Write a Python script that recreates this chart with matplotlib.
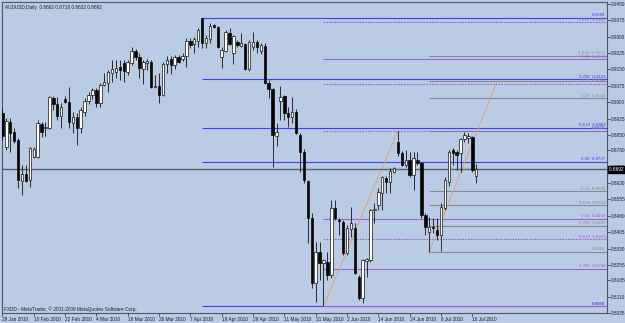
import matplotlib
matplotlib.use("Agg")
import matplotlib.pyplot as plt
import matplotlib.transforms as mtransforms
import numpy as np
import pandas as pd

plt.rcParams['font.family'] = ['Liberation Sans', 'DejaVu Sans']

symbol = "AUDUSD,Daily"
first_day = "2010-01-29"
footer = "FXDD - MetaTrader, \u00a9 2001-2009 MetaQuotes Software Corp."

# daily bars
opens = [0.8951, 0.8795, 0.8910, 0.8864, 0.8827, 0.8639, 0.8671, 0.8644, 0.8749, 0.8749,
         0.8901, 0.8882, 0.8882, 0.9020, 0.8992, 0.8937, 0.9015, 0.9001, 0.8905, 0.8933,
         0.8882, 0.8955, 0.9006, 0.9033, 0.9056, 0.8997, 0.9079, 0.9088, 0.9134, 0.9139,
         0.9161, 0.9180, 0.9139, 0.9180, 0.9235, 0.9207, 0.9152, 0.9180, 0.9184, 0.9070,
         0.9075, 0.9033, 0.9175, 0.9198, 0.9171, 0.9207, 0.9198, 0.9212, 0.9280, 0.9267,
         0.9280, 0.9386, 0.9271, 0.9290, 0.9354, 0.9345, 0.9207, 0.9235, 0.9317, 0.9226,
         0.9276, 0.9258, 0.9267, 0.9152, 0.9253, 0.9276, 0.9235, 0.9258, 0.9088, 0.9061,
         0.8846, 0.9006, 0.9029, 0.8951, 0.8933, 0.8955, 0.8850, 0.8772, 0.8639, 0.8470,
         0.8172, 0.8314, 0.8264, 0.8268, 0.8209, 0.8516, 0.8461, 0.8452, 0.8310, 0.8420,
         0.8424, 0.8200, 0.8103, 0.8273, 0.8277, 0.8506, 0.8529, 0.8585, 0.8653, 0.8635,
         0.8681, 0.8818, 0.8768, 0.8713, 0.8735, 0.8667, 0.8735, 0.8722, 0.8484, 0.8406,
         0.8429, 0.8415, 0.8392, 0.8516, 0.8635, 0.8781, 0.8772, 0.8768, 0.8832, 0.8836,
         0.8841, 0.8662]
highs = [0.8974, 0.8928, 0.8928, 0.8882, 0.8836, 0.8713, 0.8713, 0.8795, 0.8795, 0.8919,
         0.8910, 0.8910, 0.9029, 0.9029, 0.9024, 0.8997, 0.9029, 0.9070, 0.8955, 0.8951,
         0.8978, 0.9020, 0.9047, 0.9065, 0.9065, 0.9088, 0.9134, 0.9148, 0.9194, 0.9194,
         0.9194, 0.9194, 0.9194, 0.9253, 0.9244, 0.9226, 0.9194, 0.9198, 0.9194, 0.9125,
         0.9134, 0.9184, 0.9212, 0.9212, 0.9216, 0.9216, 0.9226, 0.9294, 0.9294, 0.9299,
         0.9340, 0.9388, 0.9308, 0.9363, 0.9358, 0.9349, 0.9253, 0.9331, 0.9340, 0.9308,
         0.9285, 0.9317, 0.9271, 0.9285, 0.9322, 0.9285, 0.9271, 0.9271, 0.9102, 0.9065,
         0.8905, 0.9075, 0.9033, 0.8978, 0.9024, 0.8969, 0.8859, 0.8786, 0.8644, 0.8493,
         0.8360, 0.8360, 0.8282, 0.8314, 0.8552, 0.8552, 0.8470, 0.8461, 0.8438, 0.8520,
         0.8447, 0.8209, 0.8282, 0.8286, 0.8511, 0.8539, 0.8607, 0.8662, 0.8662, 0.8699,
         0.8703, 0.8869, 0.8777, 0.8781, 0.8772, 0.8772, 0.8772, 0.8726, 0.8493, 0.8474,
         0.8470, 0.8470, 0.8539, 0.8658, 0.8781, 0.8790, 0.8781, 0.8836, 0.8864, 0.8859,
         0.8846, 0.8718]
lows = [0.8827, 0.8781, 0.8772, 0.8813, 0.8607, 0.8575, 0.8635, 0.8612, 0.8745, 0.8745,
        0.8841, 0.8846, 0.8878, 0.8965, 0.8919, 0.8882, 0.8997, 0.8882, 0.8859, 0.8804,
        0.8859, 0.8937, 0.8992, 0.9015, 0.8978, 0.8978, 0.9075, 0.9047, 0.9093, 0.9111,
        0.9102, 0.9093, 0.9125, 0.9171, 0.9194, 0.9111, 0.9084, 0.9148, 0.9065, 0.9065,
        0.8997, 0.9029, 0.9134, 0.9129, 0.9152, 0.9180, 0.9189, 0.9161, 0.9248, 0.9226,
        0.9253, 0.9248, 0.9248, 0.9271, 0.9340, 0.9248, 0.9157, 0.9230, 0.9262, 0.9175,
        0.9253, 0.9253, 0.9148, 0.9143, 0.9239, 0.9226, 0.9221, 0.9084, 0.9020, 0.8703,
        0.8800, 0.8919, 0.8919, 0.8887, 0.8905, 0.8855, 0.8681, 0.8630, 0.8355, 0.8149,
        0.8085, 0.8186, 0.8066, 0.8186, 0.8195, 0.8461, 0.8392, 0.8300, 0.8300, 0.8383,
        0.8213, 0.8094, 0.8081, 0.8200, 0.8268, 0.8447, 0.8506, 0.8506, 0.8585, 0.8585,
        0.8676, 0.8754, 0.8708, 0.8703, 0.8658, 0.8598, 0.8713, 0.8470, 0.8392, 0.8316,
        0.8401, 0.8369, 0.8318, 0.8506, 0.8616, 0.8713, 0.8690, 0.8681, 0.8818, 0.8813,
        0.8681, 0.8632]
closes = [0.8846, 0.8914, 0.8859, 0.8823, 0.8644, 0.8671, 0.8639, 0.8790, 0.8786, 0.8905,
          0.8864, 0.8887, 0.9024, 0.8992, 0.8937, 0.8978, 0.9001, 0.8910, 0.8933, 0.8882,
          0.8965, 0.9006, 0.9033, 0.9056, 0.8997, 0.9079, 0.9093, 0.9139, 0.9152, 0.9157,
          0.9148, 0.9143, 0.9184, 0.9235, 0.9207, 0.9157, 0.9184, 0.9189, 0.9070, 0.9075,
          0.9033, 0.9175, 0.9194, 0.9171, 0.9207, 0.9184, 0.9212, 0.9280, 0.9262, 0.9290,
          0.9331, 0.9271, 0.9294, 0.9349, 0.9345, 0.9253, 0.9239, 0.9322, 0.9267, 0.9303,
          0.9262, 0.9271, 0.9152, 0.9276, 0.9276, 0.9253, 0.9262, 0.9088, 0.9061, 0.8850,
          0.8864, 0.9024, 0.8951, 0.8933, 0.8955, 0.8859, 0.8772, 0.8644, 0.8470, 0.8172,
          0.8314, 0.8264, 0.8277, 0.8209, 0.8516, 0.8470, 0.8456, 0.8310, 0.8424, 0.8447,
          0.8218, 0.8103, 0.8277, 0.8282, 0.8506, 0.8511, 0.8589, 0.8658, 0.8635, 0.8685,
          0.8699, 0.8768, 0.8713, 0.8735, 0.8667, 0.8745, 0.8722, 0.8484, 0.8429, 0.8429,
          0.8424, 0.8392, 0.8520, 0.8644, 0.8772, 0.8768, 0.8758, 0.8832, 0.8850, 0.8846,
          0.8690, 0.8692]

y_ticks = [0.9450, 0.9375, 0.9300, 0.9225, 0.9150, 0.9075, 0.9000, 0.8925, 0.8850, 0.8780,
           0.8705, 0.8630, 0.8555, 0.8480, 0.8405, 0.8330, 0.8255, 0.8185, 0.8110, 0.8035]

# fibonacci objects: first anchor bar, high, low
blue_start, blue_high, blue_low = 51, 0.9388, 0.8066
blue_ratios = [1.0, 0.786, 0.618, 0.5, 0.0]
blue_names = ["", "0.786", "0.618", "0.50", ""]

purple_start, purple_high, purple_low = 82, 0.8869, 0.8066
gray_start, gray_high, gray_low = 109, 0.8870, 0.8316
fib_ratios = [0.0, 0.5, 0.618, 0.786, 1.0, -0.27, -0.41, -0.618]
fib_names = ["", "0.50", "0.618", "0.786", "", "1.27", "1.41", "1.618"]
purple_dotted = [True, False, True, False, False, True, False, True]

# diagonal trend lines (bar, price)
trend_x = [[82, 101], [109, 126.4]]
trend_y = [[0.8066, 0.8869], [0.8316, 0.9100]]

bg = '#b9cce3'
blue = '#3f3ff5'
purple = '#9a64d8'
gray = '#858b94'
tan = '#dea277'

dates = pd.bdate_range(first_day, periods=len(opens))
x = np.arange(len(opens))
o = np.array(opens); h = np.array(highs); l = np.array(lows); c = np.array(closes)

fig = plt.figure(figsize=(6.25, 3.23), dpi=100, facecolor=bg)
ax = fig.add_axes([2/625, 10/323, 605/625, 311/323])
ax.set_facecolor(bg)
x_right = 154.4
ax.set_xlim(-0.1, x_right)
ax.set_ylim(0.80348, 0.94591)

# fibo levels
def draw_level(start, price, name, color, ls):
    ax.hlines(price, start, x_right, colors=color, linewidth=0.8, linestyles=ls, zorder=1)
    txt = f"{name}  {price:.4f}" if name else f"{price:.4f}"
    ax.text(x_right - 0.4, price + 0.0002, txt, color=color, fontsize=3.2,
            ha='right', va='bottom', zorder=5)

for r, n in zip(blue_ratios, blue_names):
    draw_level(blue_start, blue_low + r * (blue_high - blue_low), n, blue, '-')
for r, n in zip(fib_ratios, fib_names):
    draw_level(gray_start, gray_high - r * (gray_high - gray_low), n, gray, '-')
for r, n, d in zip(fib_ratios, fib_names, purple_dotted):
    draw_level(purple_start, purple_high - r * (purple_high - purple_low), n, purple,
               (0, (1.5, 1)) if d else '-')

for tx, ty in zip(trend_x, trend_y):
    ax.plot(tx, ty, color=tan, linewidth=0.7, zorder=2)

# current price line
last = closes[-1]
ax.axhline(last, color='#56616c', linewidth=1.0, zorder=2)

# candles
up = c >= o
ax.vlines(x, l, h, colors='#111111', linewidth=0.6, zorder=3)
body_lo = np.minimum(o, c)
body_h = np.maximum(np.abs(c - o), 0.0002)
ax.bar(x[up], body_h[up], width=0.62, bottom=body_lo[up], color='white',
       edgecolor='#111111', linewidth=0.5, zorder=4)
ax.bar(x[~up], body_h[~up], width=0.62, bottom=body_lo[~up], color='#050505',
       edgecolor='#050505', linewidth=0.5, zorder=4)

# axes
ax.yaxis.tick_right()
ax.set_yticks(y_ticks)
ax.set_yticklabels([f"{v:.4f}" for v in y_ticks])
tick_idx = x[::8]
ax.set_xticks(tick_idx)
ax.set_xticklabels([f"{d.day} {d.strftime('%b %Y')}" for d in dates[::8]], ha='left')
ax.tick_params(axis='both', length=2, width=0.5, pad=1, labelsize=3.4,
               colors='#1e1e1e')
for s in ax.spines.values():
    s.set_color('#4e5964')
    s.set_linewidth(0.8)

title = f"{symbol}  {opens[-1]:.4f} {highs[-1]:.4f} {lows[-1]:.4f} {closes[-1]:.4f}"
ax.annotate(title, xy=(0, 1), xycoords='axes fraction', xytext=(2, -2),
            textcoords='offset points', fontsize=3.4, va='top', ha='left', color='#1e1e1e')
ax.annotate(footer, xy=(0, 0), xycoords='axes fraction', xytext=(1.5, 1),
            textcoords='offset points', fontsize=3.4, va='bottom', ha='left', color='#1e1e1e')

trans = mtransforms.blended_transform_factory(ax.transAxes, ax.transData)
ax.text(1.003, last, f"{last:.4f} ", transform=trans, fontsize=3.4, color='white',
        va='center', ha='left', clip_on=False, zorder=6,
        bbox=dict(boxstyle='square,pad=0.15', facecolor='black', edgecolor='black'))

fig.savefig("out.png", dpi=100, facecolor=bg)
